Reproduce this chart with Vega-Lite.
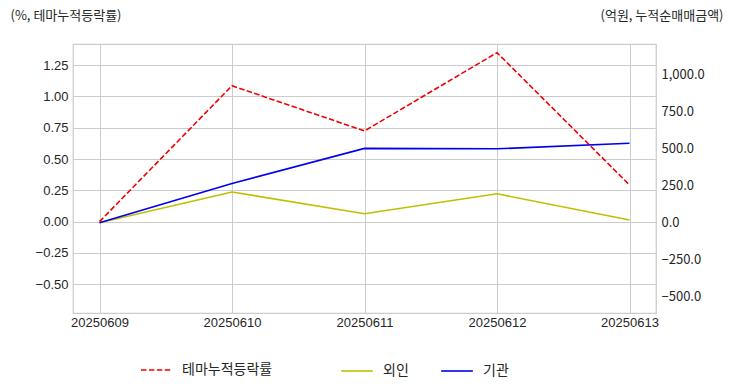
{
  "$schema": "https://vega.github.io/schema/vega-lite/v6.json",
  "width": 583,
  "height": 269,
  "autosize": {"type": "none"},
  "padding": {"left": 73, "top": 44, "right": 76, "bottom": 79},
  "background": "white",
  "config": {
    "view": {"stroke": "#cccccc", "strokeWidth": 1.25},
    "axis": {"gridColor": "#cccccc", "gridWidth": 1, "domain": false, "ticks": false, "labelColor": "#262626", "labelFontSize": 13},
    "legend": {"padding": 0}
  },
  "datasets": {
    "theme": [
      {"date": "20250609", "series": "테마누적등락률", "value": 0},
      {"date": "20250610", "series": "테마누적등락률", "value": 1.085},
      {"date": "20250611", "series": "테마누적등락률", "value": 0.724},
      {"date": "20250612", "series": "테마누적등락률", "value": 1.349},
      {"date": "20250613", "series": "테마누적등락률", "value": 0.293}
    ],
    "flows": [
      {"date": "20250609", "series": "외인", "value": 0},
      {"date": "20250610", "series": "외인", "value": 207},
      {"date": "20250611", "series": "외인", "value": 61},
      {"date": "20250612", "series": "외인", "value": 195},
      {"date": "20250613", "series": "외인", "value": 18},
      {"date": "20250609", "series": "기관", "value": 0},
      {"date": "20250610", "series": "기관", "value": 265},
      {"date": "20250611", "series": "기관", "value": 501},
      {"date": "20250612", "series": "기관", "value": 498},
      {"date": "20250613", "series": "기관", "value": 535}
    ]
  },
  "layer": [
    {
      "data": {"name": "theme"},
      "mark": {"type": "line", "strokeDash": [5.5, 2.4], "strokeWidth": 1.6},
      "encoding": {
        "x": {
          "field": "date", "type": "ordinal",
          "scale": {"type": "point", "padding": 0.2},
          "axis": {"title": null, "labelAngle": 0, "grid": true, "labelFont": "Liberation Sans", "labelPadding": 3}
        },
        "y": {
          "field": "value", "type": "quantitative",
          "scale": {"domain": [-0.729, 1.418], "nice": false, "zero": false},
          "axis": {
            "orient": "left", "values": [-0.5, -0.25, 0, 0.25, 0.5, 0.75, 1, 1.25], "format": ".2f",
            "labelFont": "Liberation Sans", "labelPadding": 5,
            "title": "(%, 테마누적등락률)", "titleAngle": 0, "titleAlign": "left", "titleBaseline": "middle",
            "titleX": -63, "titleY": -29, "titleFont": "Noto Sans CJK KR", "titleFontSize": 13, "titleFontWeight": "normal", "titleColor": "#262626"
          }
        },
        "color": {
          "field": "series", "type": "nominal",
          "scale": {"domain": ["테마누적등락률"], "range": ["#f00000"]},
          "legend": {
            "orient": "none", "legendX": 67, "legendY": 310, "title": null,
            "symbolType": "stroke", "symbolDash": [5.5, 2.4], "symbolStrokeWidth": 1.6, "symbolSize": 900,
            "labelFont": "Noto Sans CJK KR", "labelFontSize": 14, "labelColor": "#262626", "labelOffset": 10
          }
        }
      }
    },
    {
      "data": {"name": "flows"},
      "mark": {"type": "line", "strokeWidth": 1.6},
      "encoding": {
        "x": {"field": "date", "type": "ordinal", "scale": {"type": "point", "padding": 0.2}},
        "y": {
          "field": "value", "type": "quantitative",
          "scale": {"domain": [-608, 1204], "nice": false, "zero": false},
          "axis": {
            "orient": "right", "values": [-500, -250, 0, 250, 500, 750, 1000], "format": ",.1f",
            "labelFont": "Noto Sans CJK KR", "labelPadding": 5,
            "title": "(억원, 누적순매매금액)", "titleAngle": 0, "titleAlign": "right", "titleBaseline": "middle",
            "titleX": 67, "titleY": -29, "titleFont": "Noto Sans CJK KR", "titleFontSize": 13, "titleFontWeight": "normal", "titleColor": "#262626"
          }
        },
        "color": {
          "field": "series", "type": "nominal",
          "scale": {"domain": ["외인", "기관"], "range": ["#bfbf00", "#0000ee"]},
          "legend": {
            "orient": "none", "direction": "horizontal", "legendX": 267, "legendY": 310, "title": null,
            "symbolType": "stroke", "symbolStrokeWidth": 1.6, "symbolSize": 1000, "columnPadding": 28,
            "labelFont": "Noto Sans CJK KR", "labelFontSize": 14, "labelColor": "#262626", "labelOffset": 9
          }
        }
      }
    }
  ],
  "resolve": {"scale": {"y": "independent", "color": "independent"}}
}
